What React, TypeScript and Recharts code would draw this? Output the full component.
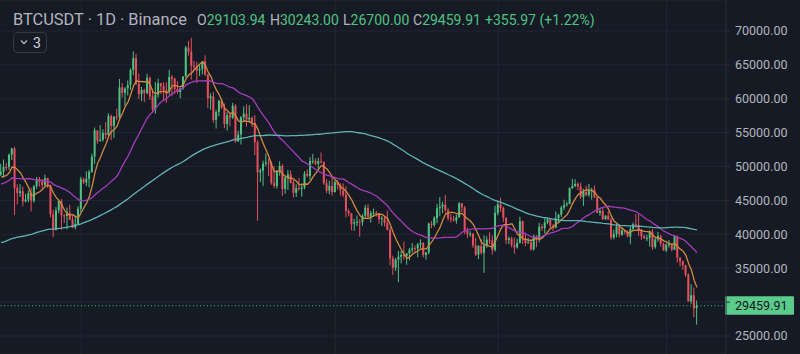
import React from 'react';
import { ComposedChart, Bar, Line, XAxis, YAxis, CartesianGrid, ReferenceLine } from 'recharts';

// ---- data ----
const START_DATE = '2021-09-02';

// daily closes 27 May – 1 Sep 2021 (warm-up for the moving averages)
const warmMay21 = [38440, 35660, 34590, 35640, 37250];
const warmJun21 = [36690, 37570, 39190, 36850, 35520, 35800, 33560, 33400, 37390, 36690, 37330, 35550, 39020, 40520, 40140, 38350, 38090, 35820, 35480, 35600, 31680, 32510, 33680, 34660, 31590, 32280, 34700, 34490, 35910, 35040];
const warmJul21 = [33520, 33860, 34690, 35290, 33690, 34220, 33860, 32880, 33810, 33510, 34260, 33090, 32730, 32820, 31880, 31380, 31520, 31780, 30840, 29790, 32140, 32290, 33640, 34260, 35400, 37270, 39460, 40020, 40010, 42230, 41460];
const warmAug21 = [39850, 39150, 38210, 39720, 40870, 42830, 44610, 43830, 46290, 45590, 45550, 44420, 47830, 47110, 47020, 45930, 44690, 44710, 46760, 49340, 48870, 49280, 49510, 47710, 48990, 46840, 49070, 48900, 48810, 46990, 47130];
const warmSep21 = [48810];

// visible candles: [high, low, close]
const sep21 = [
  [50400, 48600, 49250], [51050, 48350, 49940], [50560, 49400, 49920], [51900, 49500, 51760], [52780, 50950, 52660],
  [52920, 42840, 46860], [47380, 44410, 46070], [47400, 45510, 46370], [47030, 44130, 44850], [45970, 44720, 45140],
  [46460, 44740, 46060], [46880, 43370, 44960], [47250, 44690, 47110], [48450, 46700, 48120], [48490, 47030, 47750],
  [48160, 46750, 47300], [48810, 47070, 48300], [48360, 46850, 47260], [47340, 42500, 42960], [43640, 39600, 40700],
  [44000, 40560, 43540], [44980, 43090, 44890], [45200, 40680, 42810], [42970, 41680, 42700], [43950, 40750, 43200],
  [44350, 42100, 42170], [42790, 40900, 41030], [42640, 40760, 41520], [44130, 41410, 43790],
];
const oct21 = [
  [48500, 43300, 48140], [48360, 47440, 47660], [49300, 47120, 48200], [49530, 46950, 49220], [51890, 49060, 51470],
  [55750, 50380, 55320], [55330, 53360, 53800], [56100, 53650, 53960], [55490, 53680, 54950], [56560, 54080, 54660],
  [57840, 54420, 57470], [57680, 53880, 56000], [57400, 54240, 57370], [58550, 56820, 57350], [62930, 56850, 61670],
  [62350, 60150, 60870], [61740, 58960, 61520], [62700, 60500, 62040], [64490, 61320, 64280], [67000, 63480, 66000],
  [66640, 62000, 62210], [63730, 60000, 60690], [61750, 59670, 61290], [61490, 59520, 60850], [63710, 60650, 63080],
  [63290, 59820, 60330], [61500, 58000, 58450], [62500, 57820, 60590], [62980, 60170, 62270], [62360, 60720, 61880],
  [62450, 59680, 61300],
];
const nov21 = [
  [62420, 59410, 61000], [64270, 60620, 63220], [63520, 60380, 62930], [63120, 60680, 61440], [62590, 60720, 61000],
  [61560, 60080, 61530], [63300, 61320, 63300], [67790, 63110, 67550], [68530, 66380, 66950], [69000, 62820, 64880],
  [65580, 64100, 64800], [65460, 62330, 64160], [65000, 63350, 64400], [65550, 63580, 65500], [66400, 63350, 63600],
  [63620, 58600, 60090], [60800, 58370, 60360], [60980, 56470, 56890], [58370, 55600, 58050], [59850, 57420, 59700],
  [60000, 58480, 58680], [59290, 55650, 56290], [58000, 55320, 57570], [57800, 55950, 57200], [59400, 57000, 58960],
  [59200, 53500, 53730], [55300, 53610, 54720], [57450, 53250, 57270], [58870, 56650, 57800], [59180, 55880, 56950],
];
const dec21 = [
  [59050, 56460, 57180], [57380, 55830, 56480], [57600, 51680, 53600], [53860, 42000, 49150], [49700, 47730, 49400],
  [50880, 47100, 50440], [51940, 50040, 50590], [51200, 48600, 50470], [50800, 47320, 47540], [50100, 46850, 47140],
  [49480, 46750, 49380], [50800, 48640, 50100], [50350, 45670, 46700], [48700, 46000, 48340], [49500, 46550, 48860],
  [49440, 47500, 47630], [48000, 45460, 46130], [47380, 45500, 46830], [48300, 46400, 46680], [47540, 45560, 46910],
  [49330, 46630, 48930], [49580, 48420, 48630], [51380, 48050, 50820], [51860, 50380, 50840], [51200, 50200, 50400],
  [51300, 49450, 50780], [52090, 50450, 50700], [50700, 47300, 47540], [48150, 46060, 46460], [47900, 45900, 47120],
  [48550, 45680, 46220],
];
const jan22 = [
  [47950, 46200, 47720], [47990, 46650, 47300], [47570, 45700, 46450], [47500, 45500, 45830], [47070, 42500, 43430],
  [43750, 42650, 43080], [43150, 40610, 41560], [42300, 40500, 41730], [42790, 41200, 41860], [42250, 39650, 41830],
  [43000, 41270, 42740], [44350, 42450, 43920], [44460, 42300, 42590], [43450, 41730, 43100], [43800, 42580, 43180],
  [43480, 42600, 43110], [43180, 41550, 42250], [42690, 41250, 42380], [42580, 41140, 41690], [43500, 40550, 40700],
  [41100, 35440, 36450], [36840, 34010, 35070], [36500, 34600, 36280], [37550, 32950, 36690], [37550, 35700, 36960],
  [38900, 36230, 36830], [37230, 35500, 37190], [38000, 36160, 37730], [38720, 37300, 37940], [38360, 37350, 37920],
  [38740, 36630, 38500],
];
const feb22 = [
  [39270, 38000, 38720], [38860, 36590, 36940], [37390, 36250, 37330], [41750, 37050, 41570], [41950, 40900, 41380],
  [42660, 41110, 42410], [44500, 41640, 43840], [45500, 42670, 44040], [44790, 43120, 44380], [45820, 43190, 43570],
  [43920, 42000, 42400], [43000, 41750, 42240], [42760, 41870, 42050], [42880, 41570, 42530], [44750, 42440, 44580],
  [44580, 43310, 43960], [44170, 40070, 40540], [40970, 39450, 40000], [40460, 39640, 40100], [40150, 38000, 38370],
  [39500, 36800, 37000], [38440, 36350, 38270], [39250, 37020, 37260], [39840, 34320, 38330], [39730, 38010, 39220],
  [40300, 38570, 39110], [39860, 37000, 37700], [44220, 37450, 43160],
];
const mar22 = [
  [44950, 42800, 44420], [45400, 43330, 43890], [44100, 41830, 42450], [42500, 38550, 39150], [39700, 38550, 39400],
  [39650, 38090, 38420], [39550, 37150, 38060], [39360, 37870, 38740], [42600, 38650, 41940], [42050, 38540, 39420],
  [40230, 38220, 38730], [39490, 38660, 38810], [39300, 37580, 37780], [39950, 37580, 39670], [39880, 38100, 39280],
  [41720, 38830, 41110], [41480, 40500, 40920], [42330, 40130, 41760], [42400, 41500, 42200], [42300, 40920, 41260],
  [41540, 40500, 41000], [43370, 40880, 42360], [43020, 41740, 42890], [44220, 42570, 43960], [45100, 43580, 44350],
  [44800, 44070, 44500], [46920, 44420, 46820], [48190, 46670, 47130], [48100, 46950, 47430], [47700, 46520, 47060],
  [47600, 45200, 45510],
];
const apr22 = [
  [46720, 44200, 46280], [47200, 45620, 45810], [47440, 45520, 46400], [46890, 45120, 46580], [47200, 45350, 45500],
  [45510, 43120, 43170], [43900, 42730, 43440], [43970, 42100, 42250], [42800, 42130, 42750], [43410, 42120, 42160],
  [42420, 39200, 39530], [40700, 39250, 40070], [41560, 39550, 41150], [41500, 39550, 39940], [40850, 39770, 40550],
  [40710, 40010, 40380], [40600, 39550, 39680], [41150, 38540, 40800], [41750, 40570, 41490], [42980, 40950, 41370],
  [42980, 39750, 40480], [40800, 39180, 39710], [39980, 39290, 39450], [39950, 38980, 39450], [40600, 38200, 40430],
  [40800, 37700, 38110], [39460, 37870, 39240], [40370, 38880, 39740], [39920, 38190, 38600], [38800, 37580, 37630],
];
const may22 = [
  [38670, 37390, 38470], [39170, 38050, 38520], [38650, 37500, 37720], [39900, 37670, 39690], [39840, 35860, 36550],
  [36650, 35260, 36010], [36130, 34780, 35470], [35500, 33710, 34040], [34240, 30030, 30100], [32660, 29730, 31010],
  [32160, 27780, 29103.94], [30243, 26700, 29459.91],
];

const priceTicks = [25000, 30000, 35000, 40000, 45000, 50000, 55000, 60000, 65000, 70000];
const hiddenTickLabels = [30000];
const gridMonths = ['2021-10-01', '2022-01-01', '2022-03-01', '2022-05-01'];
const maPeriods = [7, 25, 99];
const header = { symbol: 'BTCUSDT', interval: '1D', exchange: 'Binance', o: '29103.94', h: '30243.00', l: '26700.00', c: '29459.91', chg: '+355.97 (+1.22%)' };

// ---- styles ----
const BG = '#161a25';
const UP = '#4fc282';
const DOWN = '#e5505c';
const GRID = '#222632';
const AXIS = '#2b2f3b';
const TXT = '#b2b5be';
const FONT = 'Roboto, "Noto Sans", sans-serif';
const MA_COLORS = ['#d08a3f', '#a53dbb', '#5fb3b5'];

// ---- build table ----
const warm = [...warmMay21, ...warmJun21, ...warmJul21, ...warmAug21, ...warmSep21];
const candles = [...sep21, ...oct21, ...nov21, ...dec21, ...jan22, ...feb22, ...mar22, ...apr22, ...may22];
const allCloses = [...warm, ...candles.map((c) => c[2])];
const sma = (g: number, n: number) => {
  if (g - n + 1 < 0) return null;
  let s = 0;
  for (let k = g - n + 1; k <= g; k++) s += allCloses[k];
  return s / n;
};
const data = candles.map(([h, l, c], i) => {
  const g = warm.length + i;
  const row: any = { i, o: allCloses[g - 1], h, l, c, range: [l, h] };
  maPeriods.forEach((p) => (row['ma' + p] = sma(g, p)));
  return row;
});
const DAY = 86400000;
const dayIndex = (d: string) => Math.round((Date.parse(d) - Date.parse(START_DATE)) / DAY);
const gridIdx = gridMonths.map(dayIndex);
const lastClose = candles[candles.length - 1][2];

const Candle = (props: any) => {
  const { x, y, width, height, payload } = props;
  if (!payload || height == null || isNaN(y)) return null;
  const { o, h, l, c } = payload;
  const top = Math.min(y, y + height);
  const tot = Math.abs(height);
  const k = h === l ? 0 : tot / (h - l);
  const color = c >= o ? UP : DOWN;
  const cx = x + width / 2;
  const bTop = top + (h - Math.max(o, c)) * k;
  const bBot = top + (h - Math.min(o, c)) * k;
  return (
    <g>
      <line x1={cx} x2={cx} y1={top} y2={top + tot} stroke={color} strokeWidth={1} />
      <rect x={cx - 1} y={bTop} width={2} height={Math.max(1, bBot - bTop)} fill={color} />
    </g>
  );
};

const PriceTick = (props: any) => {
  const { x, y, payload } = props;
  if (hiddenTickLabels.includes(payload.value)) return null;
  return (
    <text x={x} y={y} dy={4.3} fill={TXT} fontSize={12.5} fontFamily={FONT} textAnchor="start">
      {Number(payload.value).toFixed(2)}
    </text>
  );
};

const PriceLabel = (props: any) => {
  const vb = props.viewBox || {};
  const x0 = vb.x + vb.width - 1;
  const y0 = vb.y;
  return (
    <g>
      <rect x={x0} y={y0 - 9.5} width={69} height={18.5} fill="#5acb8a" rx={1} />
      <text x={x0 + 10} y={y0 + 4.3} fill="#131722" fontSize={12.5} fontFamily={FONT}>
        {lastClose.toFixed(2)}
      </text>
    </g>
  );
};

export default function App() {
  return (
    <div style={{ position: 'absolute', left: 0, top: 0, width: 800, height: 354, background: BG, overflow: 'hidden' }}>
      <ComposedChart width={800} height={354} data={data} margin={{ top: 0, right: 0, bottom: 0, left: 0 }}>
        <CartesianGrid stroke={GRID} horizontal vertical verticalValues={gridIdx} />
        <XAxis type="number" dataKey="i" domain={[-0.4, 262.5]} allowDataOverflow hide />
        <YAxis
          orientation="right"
          type="number"
          width={74}
          domain={[22344, 74572]}
          allowDataOverflow
          ticks={priceTicks}
          tick={<PriceTick />}
          tickSize={4}
          tickMargin={5}
          tickLine={{ stroke: AXIS }}
          axisLine={{ stroke: AXIS }}
        />
        <ReferenceLine y={lastClose} stroke={UP} strokeDasharray="1 2.5" label={<PriceLabel />} />
        <Bar dataKey="range" barSize={2} shape={<Candle />} isAnimationActive={false} />
        {maPeriods.map((p, k) => (
          <Line
            key={p}
            dataKey={'ma' + p}
            type="linear"
            stroke={MA_COLORS[k]}
            strokeWidth={1.3}
            dot={false}
            activeDot={false}
            isAnimationActive={false}
          />
        ))}
      </ComposedChart>
      <svg width={800} height={60} style={{ position: 'absolute', left: 0, top: 0, pointerEvents: 'none' }}>
        <text x={13} y={25} fill={TXT} fontSize={16.4} fontFamily={FONT}>
          {`${header.symbol} · ${header.interval} · ${header.exchange}`}
        </text>
        <text x={197} y={25} fontSize={14} fontFamily={FONT}>
          <tspan fill={TXT}>O</tspan>
          <tspan fill={UP}>{header.o}</tspan>
        </text>
        <text x={270} y={25} fontSize={14} fontFamily={FONT}>
          <tspan fill={TXT}>H</tspan>
          <tspan fill={UP}>{header.h}</tspan>
        </text>
        <text x={343} y={25} fontSize={14} fontFamily={FONT}>
          <tspan fill={TXT}>L</tspan>
          <tspan fill={UP}>{header.l}</tspan>
        </text>
        <text x={413} y={25} fontSize={14} fontFamily={FONT}>
          <tspan fill={TXT}>C</tspan>
          <tspan fill={UP}>{header.c}</tspan>
        </text>
        <text x={485} y={25} fontSize={14} fontFamily={FONT} fill={UP}>
          {header.chg}
        </text>
        <rect x={13.5} y={32.5} width={33} height={20} rx={4} fill="none" stroke="#363a45" />
        <polyline points="21,40.5 24,43.5 27,40.5" fill="none" stroke={TXT} strokeWidth={1.4} />
        <text x={33} y={47.5} fill="#d1d4dc" fontSize={14} fontFamily={FONT}>3</text>
      </svg>
    </div>
  );
}
